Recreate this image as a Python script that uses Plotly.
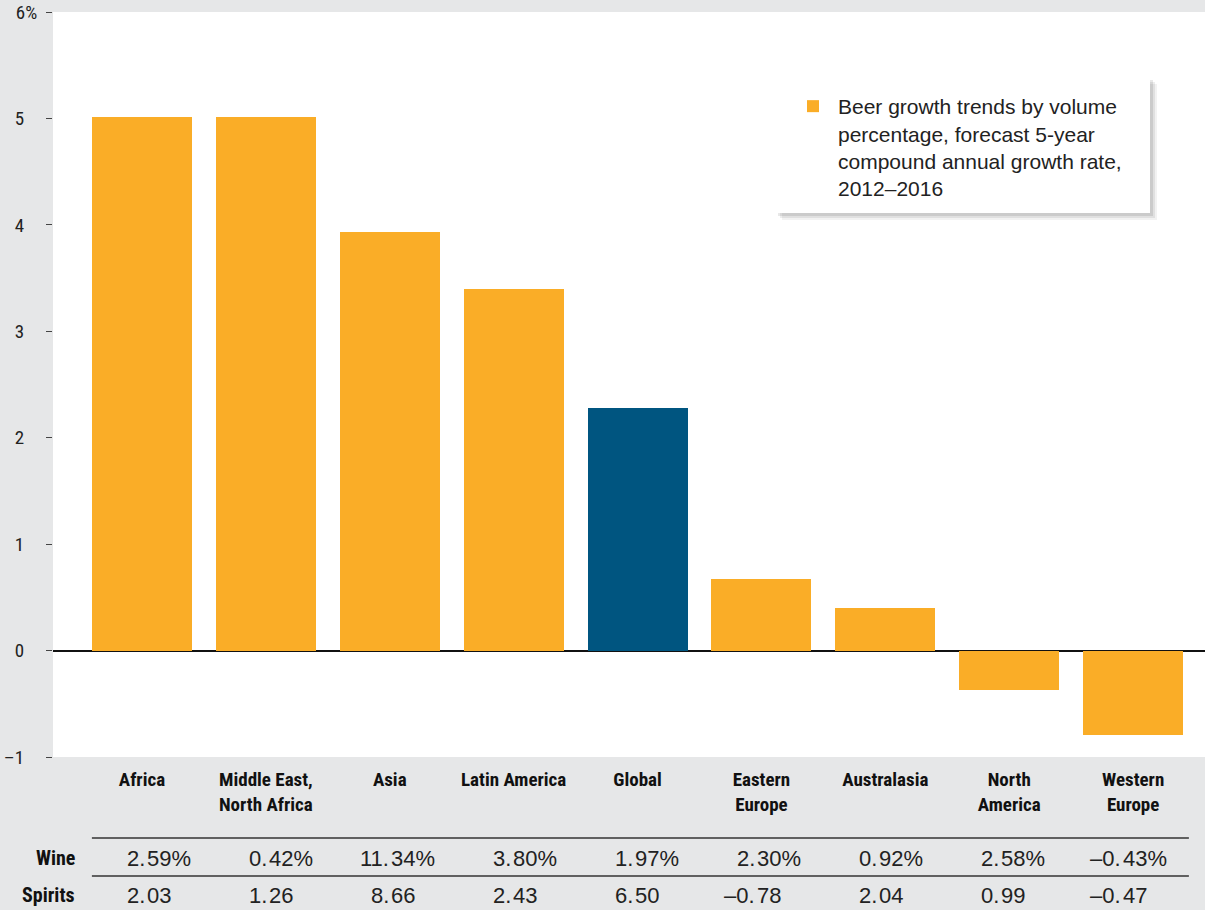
import plotly.graph_objects as go

# ---- data ----
categories = ["Africa", "Middle East,<br>North Africa", "Asia", "Latin America", "Global",
              "Eastern<br>Europe", "Australasia", "North<br>America", "Western<br>Europe"]
beer_growth = [5.01, 5.01, 3.93, 3.40, 2.28, 0.67, 0.40, -0.37, -0.79]
wine_growth = [2.59, 0.42, 11.34, 3.80, 1.97, 2.30, 0.92, 2.58, -0.43]
spirits_growth = [2.03, 1.26, 8.66, 2.43, 6.50, -0.78, 2.04, 0.99, -0.47]
highlight = "Global"
y_tick_vals = [-1, 0, 1, 2, 3, 4, 5, 6]
y_tick_text = ["\u20131", "0", "1", "2", "3", "4", "5", "6%"]
legend_label = ("Beer growth trends by volume<br>percentage, forecast 5-year<br>"
                "compound annual growth rate,<br>2012\u20132016")

ORANGE = "#FAAD27"
NAVY = "#005580"
PAPER = "#E6E7E8"
REG = "Liberation Sans, Arial, sans-serif"
COND1 = "Noto Sans Condensed, Roboto Condensed, Open Sans Condensed, Roboto"
COND2 = "Roboto Condensed, Open Sans Condensed, Noto Sans Condensed, Roboto"

W, H = 1205, 910
ML, MR, MT, MB = 53, 0, 12, 153
PH = H - MT - MB

def py(pix):
    """pixel y from top -> paper y"""
    return (H - MB - pix) / PH

def px(pix):
    return (pix - ML) / (W - ML - MR)

idx = list(range(len(categories)))
colors = [NAVY if c == highlight else ORANGE for c in categories]
# let the "%" of the top label hang past the right-aligned numbers
y_tick_disp = [t if t.endswith("%") else t + "\u00a0\u00a0\u00a0" for t in y_tick_text]

fig = go.Figure()
fig.add_trace(go.Bar(
    x=idx, y=beer_growth, marker=dict(color=colors, line=dict(width=0)),
    width=0.807, name=legend_label, showlegend=True, hoverinfo="skip",
))
fig.add_trace(go.Scatter(x=[0], y=[0], xaxis="x2", mode="markers",
                         marker=dict(opacity=0), showlegend=False, hoverinfo="skip"))

def fmt(v):
    s = f"{abs(v):.2f}"
    return ("\u2013" if v < 0 else "") + s

annotations = []
rows = [("Wine", wine_growth, "%", 858), ("Spirits", spirits_growth, "", 895)]
for label, vals, suffix, ypix in rows:
    annotations.append(dict(text=label, xref="paper", yref="paper",
                            x=px(76), y=py(ypix), xanchor="right", yanchor="middle",
                            showarrow=False, borderpad=0,
                            font=dict(family=COND2, size=20, color="#111", weight="bold")))
    for i, v in enumerate(vals):
        s = fmt(v)
        ip, dp = s.split(".")
        annotations.append(dict(text=ip + ".", xref="x2", yref="paper", x=i, y=py(ypix),
                                xanchor="right", yanchor="middle", showarrow=False,
                                borderpad=0, font=dict(family=REG, size=22, color="#222")))
        annotations.append(dict(text=dp + suffix, xref="x2", yref="paper", x=i, y=py(ypix),
                                xanchor="left", yanchor="middle", showarrow=False,
                                borderpad=0, font=dict(family=REG, size=22, color="#222")))

shapes = []
for ypix in (838, 876):
    shapes.append(dict(type="line", xref="x", yref="paper", x0=-0.404, x1=8.45,
                       y0=py(ypix), y1=py(ypix), line=dict(color="#333", width=1.5)))
for off, col in ((7, "rgba(0,0,0,0.05)"), (5, "rgba(0,0,0,0.07)"), (3, "rgba(0,0,0,0.09)")):
    shapes.append(dict(type="rect", xref="paper", yref="paper", layer="below",
                       x0=px(775 + off), x1=px(1150 + off), y0=py(213 + off), y1=py(77 + off),
                       line=dict(width=0), fillcolor=col))
shapes.append(dict(type="rect", xref="paper", yref="paper", layer="below",
                   x0=px(775), x1=px(1150), y0=py(213), y1=py(77),
                   line=dict(width=0), fillcolor="white"))

fig.update_layout(
    width=W, height=H,
    margin=dict(l=ML, r=MR, t=MT, b=MB, pad=0),
    paper_bgcolor=PAPER, plot_bgcolor="white",
    font=dict(family=REG, color="#222"),
    bargap=0,
    xaxis=dict(range=[-0.718, 8.58], tickvals=idx, ticktext=categories,
               tickfont=dict(family=COND1, size=19, color="#111", weight="bold"),
               ticks="", showgrid=False, zeroline=False, showline=False,
               ticklabelstandoff=9, fixedrange=True),
    xaxis2=dict(range=[-0.762, 8.68], overlaying="x", visible=False, fixedrange=True),
    yaxis=dict(range=[-1, 6], tickvals=y_tick_vals, ticktext=y_tick_disp,
               tickfont=dict(family=COND2, size=19, color="#222"),
               ticks="outside", ticklen=6, tickwidth=1, tickcolor="#444",
               showgrid=False, zeroline=True, zerolinecolor="#111", zerolinewidth=1.5,
               showline=False, ticklabelstandoff=5, fixedrange=True),
    legend=dict(x=px(788), y=py(86), xanchor="left", yanchor="top",
                bgcolor="rgba(0,0,0,0)", borderwidth=0, valign="top",
                font=dict(family=REG, size=21, color="#222"), itemwidth=40),
    annotations=annotations,
    shapes=shapes,
    showlegend=True,
)

fig.write_html("out.html", config={"displayModeBar": False},
               post_script="document.body.style.margin='0';")
